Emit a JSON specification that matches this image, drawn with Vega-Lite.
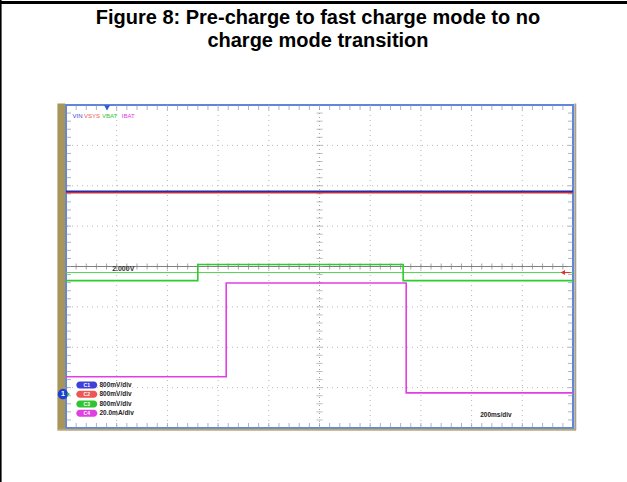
{
  "$schema": "https://vega.github.io/schema/vega-lite/v6.json",
  "width": 507,
  "height": 323,
  "autosize": "none",
  "padding": {"left": 66, "top": 105, "right": 54, "bottom": 54},
  "background": "white",
  "view": {"stroke": "#5f86d8", "strokeWidth": 2},
  "config": {"axis": {"disable": true}, "legend": {"disable": true}, "font": "Liberation Sans"},
  "data": {"values": [{}]},
  "datasets": {
    "trace": [
      {"s": "VIN", "o": 1, "x": 0, "y": 5.86},
      {"s": "VIN", "o": 2, "x": 10, "y": 5.86},
      {"s": "VSYS", "o": 1, "x": 0, "y": 5.83},
      {"s": "VSYS", "o": 2, "x": 10, "y": 5.83},
      {"s": "VBAT", "o": 1, "x": 0, "y": 3.65},
      {"s": "VBAT", "o": 2, "x": 2.6, "y": 3.65},
      {"s": "VBAT", "o": 3, "x": 2.6, "y": 4.05},
      {"s": "VBAT", "o": 4, "x": 6.65, "y": 4.05},
      {"s": "VBAT", "o": 5, "x": 6.65, "y": 3.65},
      {"s": "VBAT", "o": 6, "x": 10, "y": 3.65},
      {"s": "IBAT", "o": 1, "x": 0, "y": 1.27},
      {"s": "IBAT", "o": 2, "x": 3.16, "y": 1.27},
      {"s": "IBAT", "o": 3, "x": 3.16, "y": 3.59},
      {"s": "IBAT", "o": 4, "x": 6.71, "y": 3.59},
      {"s": "IBAT", "o": 5, "x": 6.71, "y": 0.87},
      {"s": "IBAT", "o": 6, "x": 10, "y": 0.87}
    ],
    "xt": [{"v":0.2},{"v":0.4},{"v":0.6},{"v":0.8},{"v":1},{"v":1.2},{"v":1.4},{"v":1.6},{"v":1.8},{"v":2},{"v":2.2},{"v":2.4},{"v":2.6},{"v":2.8},{"v":3},{"v":3.2},{"v":3.4},{"v":3.6},{"v":3.8},{"v":4},{"v":4.2},{"v":4.4},{"v":4.6},{"v":4.8},{"v":5},{"v":5.2},{"v":5.4},{"v":5.6},{"v":5.8},{"v":6},{"v":6.2},{"v":6.4},{"v":6.6},{"v":6.8},{"v":7},{"v":7.2},{"v":7.4},{"v":7.6},{"v":7.8},{"v":8},{"v":8.2},{"v":8.4},{"v":8.6},{"v":8.8},{"v":9},{"v":9.2},{"v":9.4},{"v":9.6},{"v":9.8}],
    "yt": [{"v":0.2},{"v":0.4},{"v":0.6},{"v":0.8},{"v":1},{"v":1.2},{"v":1.4},{"v":1.6},{"v":1.8},{"v":2},{"v":2.2},{"v":2.4},{"v":2.6},{"v":2.8},{"v":3},{"v":3.2},{"v":3.4},{"v":3.6},{"v":3.8},{"v":4},{"v":4.2},{"v":4.4},{"v":4.6},{"v":4.8},{"v":5},{"v":5.2},{"v":5.4},{"v":5.6},{"v":5.8},{"v":6},{"v":6.2},{"v":6.4},{"v":6.6},{"v":6.8},{"v":7},{"v":7.2},{"v":7.4},{"v":7.6},{"v":7.8}],
    "gx": [{"v":1},{"v":2},{"v":3},{"v":4},{"v":6},{"v":7},{"v":8},{"v":9}],
    "gy": [{"v":1},{"v":2},{"v":3},{"v":5},{"v":6},{"v":7}],
    "lab": [
      {"t": "VIN", "ch": "1", "x": 0.13},
      {"t": "VSYS", "ch": "2", "x": 0.355},
      {"t": "VBAT", "ch": "3", "x": 0.71},
      {"t": "IBAT", "ch": "4", "x": 1.1}
    ],
    "leg": [
      {"c": "C1", "ch": "1", "t": "800mV/div", "y": 1.065},
      {"c": "C2", "ch": "2", "t": "800mV/div", "y": 0.835},
      {"c": "C3", "ch": "3", "t": "800mV/div", "y": 0.595},
      {"c": "C4", "ch": "4", "t": "20.0mA/div", "y": 0.364}
    ]
  },
  "layer": [
    {
      "data": {"name": "gx"},
      "mark": {"type": "rule", "color": "#b8b8b8", "strokeDash": [1, 4], "strokeWidth": 1},
      "encoding": {"x": {"field": "v", "type": "quantitative", "scale": {"domain": [0, 10], "nice": false, "zero": false}}}
    },
    {
      "data": {"name": "gy"},
      "mark": {"type": "rule", "color": "#b8b8b8", "strokeDash": [1, 4], "strokeWidth": 1},
      "encoding": {"y": {"field": "v", "type": "quantitative", "scale": {"domain": [0, 8], "nice": false, "zero": false}}}
    },
    {
      "mark": {"type": "rule", "color": "#a0a0a0", "strokeDash": [1, 3], "strokeWidth": 1},
      "encoding": {"x": {"datum": 5, "scale": {"domain": [0, 10], "nice": false, "zero": false}}}
    },
    {
      "mark": {"type": "rule", "color": "#808080", "strokeWidth": 1},
      "encoding": {"y": {"datum": 4, "scale": {"domain": [0, 8], "nice": false, "zero": false}}}
    },
    {
      "data": {"name": "xt"},
      "mark": {"type": "tick", "orient": "vertical", "size": 6, "thickness": 1, "color": "#808080"},
      "encoding": {
        "x": {"field": "v", "type": "quantitative", "scale": {"domain": [0, 10], "nice": false, "zero": false}},
        "y": {"datum": 4, "scale": {"domain": [0, 8], "nice": false, "zero": false}}
      }
    },
    {
      "data": {"name": "yt"},
      "mark": {"type": "tick", "orient": "horizontal", "size": 6, "thickness": 1, "color": "#a0a0a0"},
      "encoding": {
        "y": {"field": "v", "type": "quantitative", "scale": {"domain": [0, 8], "nice": false, "zero": false}},
        "x": {"datum": 5, "scale": {"domain": [0, 10], "nice": false, "zero": false}}
      }
    },
    {
      "data": {"name": "xt"},
      "mark": {"type": "tick", "orient": "vertical", "size": 5, "thickness": 1, "color": "#8a93b0"},
      "encoding": {
        "x": {"field": "v", "type": "quantitative", "scale": {"domain": [0, 10], "nice": false, "zero": false}},
        "y": {"datum": 0.062, "scale": {"domain": [0, 8], "nice": false, "zero": false}}
      }
    },
    {
      "data": {"name": "xt"},
      "mark": {"type": "tick", "orient": "vertical", "size": 5, "thickness": 1, "color": "#8a93b0"},
      "encoding": {
        "x": {"field": "v", "type": "quantitative", "scale": {"domain": [0, 10], "nice": false, "zero": false}},
        "y": {"datum": 7.938, "scale": {"domain": [0, 8], "nice": false, "zero": false}}
      }
    },
    {
      "data": {"name": "yt"},
      "mark": {"type": "tick", "orient": "horizontal", "size": 5, "thickness": 1, "color": "#8a93b0"},
      "encoding": {
        "y": {"field": "v", "type": "quantitative", "scale": {"domain": [0, 8], "nice": false, "zero": false}},
        "x": {"datum": 0.049, "scale": {"domain": [0, 10], "nice": false, "zero": false}}
      }
    },
    {
      "data": {"name": "yt"},
      "mark": {"type": "tick", "orient": "horizontal", "size": 5, "thickness": 1, "color": "#8a93b0"},
      "encoding": {
        "y": {"field": "v", "type": "quantitative", "scale": {"domain": [0, 8], "nice": false, "zero": false}},
        "x": {"datum": 9.951, "scale": {"domain": [0, 10], "nice": false, "zero": false}}
      }
    },
    {
      "mark": {"type": "rule", "color": "#55d055", "strokeWidth": 1},
      "encoding": {"y": {"datum": 3.85, "scale": {"domain": [0, 8], "nice": false, "zero": false}}}
    },
    {
      "mark": {"type": "text", "text": "2.000V", "fontSize": 7, "fontWeight": "bold", "color": "#333333", "align": "left", "baseline": "middle"},
      "encoding": {
        "x": {"datum": 0.91, "scale": {"domain": [0, 10], "nice": false, "zero": false}},
        "y": {"datum": 3.94, "scale": {"domain": [0, 8], "nice": false, "zero": false}}
      }
    },
    {
      "data": {"name": "trace"},
      "transform": [{"filter": "datum.s === 'IBAT'"}],
      "mark": {"type": "line", "color": "#e33ee3", "strokeWidth": 1.6},
      "encoding": {
        "x": {"field": "x", "type": "quantitative", "scale": {"domain": [0, 10], "nice": false, "zero": false}},
        "y": {"field": "y", "type": "quantitative", "scale": {"domain": [0, 8], "nice": false, "zero": false}},
        "order": {"field": "o"}
      }
    },
    {
      "data": {"name": "trace"},
      "transform": [{"filter": "datum.s === 'VBAT'"}],
      "mark": {"type": "line", "color": "#2ccc2c", "strokeWidth": 1.6},
      "encoding": {
        "x": {"field": "x", "type": "quantitative", "scale": {"domain": [0, 10], "nice": false, "zero": false}},
        "y": {"field": "y", "type": "quantitative", "scale": {"domain": [0, 8], "nice": false, "zero": false}},
        "order": {"field": "o"}
      }
    },
    {
      "data": {"name": "trace"},
      "transform": [{"filter": "datum.s === 'VSYS'"}],
      "mark": {"type": "line", "color": "#e03535", "strokeWidth": 1.6},
      "encoding": {
        "x": {"field": "x", "type": "quantitative", "scale": {"domain": [0, 10], "nice": false, "zero": false}},
        "y": {"field": "y", "type": "quantitative", "scale": {"domain": [0, 8], "nice": false, "zero": false}},
        "order": {"field": "o"}
      }
    },
    {
      "data": {"name": "trace"},
      "transform": [{"filter": "datum.s === 'VIN'"}],
      "mark": {"type": "line", "color": "#2a2aa8", "strokeWidth": 1.8},
      "encoding": {
        "x": {"field": "x", "type": "quantitative", "scale": {"domain": [0, 10], "nice": false, "zero": false}},
        "y": {"field": "y", "type": "quantitative", "scale": {"domain": [0, 8], "nice": false, "zero": false}},
        "order": {"field": "o"}
      }
    },
    {
      "data": {"name": "lab"},
      "mark": {"type": "text", "fontSize": 6, "align": "left", "baseline": "middle"},
      "encoding": {
        "x": {"field": "x", "type": "quantitative", "scale": {"domain": [0, 10], "nice": false, "zero": false}},
        "y": {"datum": 7.735, "scale": {"domain": [0, 8], "nice": false, "zero": false}},
        "text": {"field": "t"},
        "color": {"field": "ch", "type": "nominal", "scale": {"domain": ["1", "2", "3", "4"], "range": ["#4040d8", "#ee5555", "#30c430", "#e040e0"]}}
      }
    },
    {
      "mark": {"type": "point", "shape": "triangle-down", "filled": true, "size": 35, "color": "#2c5ad8", "opacity": 1},
      "encoding": {
        "x": {"datum": 0.81, "scale": {"domain": [0, 10], "nice": false, "zero": false}},
        "y": {"datum": 7.93, "scale": {"domain": [0, 8], "nice": false, "zero": false}}
      }
    },
    {
      "mark": {"type": "rule", "color": "#e03030", "strokeWidth": 1},
      "encoding": {
        "x": {"datum": 9.78, "scale": {"domain": [0, 10], "nice": false, "zero": false}},
        "x2": {"datum": 9.95},
        "y": {"datum": 3.85, "scale": {"domain": [0, 8], "nice": false, "zero": false}}
      }
    },
    {
      "mark": {"type": "point", "shape": "triangle-left", "filled": true, "size": 25, "color": "#e03030", "opacity": 1},
      "encoding": {
        "x": {"datum": 9.8, "scale": {"domain": [0, 10], "nice": false, "zero": false}},
        "y": {"datum": 3.85, "scale": {"domain": [0, 8], "nice": false, "zero": false}}
      }
    },
    {
      "data": {"name": "leg"},
      "mark": {"type": "point", "shape": "M -0.7 -0.35 L 0.7 -0.35 A 0.35 0.35 0 0 1 0.7 0.35 L -0.7 0.35 A 0.35 0.35 0 0 1 -0.7 -0.35 Z", "filled": true, "size": 400, "opacity": 1},
      "encoding": {
        "x": {"datum": 0.41, "scale": {"domain": [0, 10], "nice": false, "zero": false}},
        "y": {"field": "y", "type": "quantitative", "scale": {"domain": [0, 8], "nice": false, "zero": false}},
        "color": {"field": "ch", "type": "nominal", "scale": {"domain": ["1", "2", "3", "4"], "range": ["#4040d8", "#ee5555", "#30c430", "#e040e0"]}}
      }
    },
    {
      "data": {"name": "leg"},
      "mark": {"type": "text", "fontSize": 5, "fontWeight": "bold", "color": "#ffffff", "align": "center", "baseline": "middle"},
      "encoding": {
        "x": {"datum": 0.41, "scale": {"domain": [0, 10], "nice": false, "zero": false}},
        "y": {"field": "y", "type": "quantitative", "scale": {"domain": [0, 8], "nice": false, "zero": false}},
        "text": {"field": "c"}
      }
    },
    {
      "data": {"name": "leg"},
      "mark": {"type": "text", "fontSize": 6.5, "fontWeight": "bold", "color": "#222222", "align": "left", "baseline": "middle"},
      "encoding": {
        "x": {"datum": 0.66, "scale": {"domain": [0, 10], "nice": false, "zero": false}},
        "y": {"field": "y", "type": "quantitative", "scale": {"domain": [0, 8], "nice": false, "zero": false}},
        "text": {"field": "t"}
      }
    },
    {
      "mark": {"type": "text", "text": "200ms/div", "fontSize": 6.5, "fontWeight": "bold", "color": "#222222", "align": "center", "baseline": "middle"},
      "encoding": {
        "x": {"datum": 8.48, "scale": {"domain": [0, 10], "nice": false, "zero": false}},
        "y": {"datum": 0.32, "scale": {"domain": [0, 8], "nice": false, "zero": false}}
      }
    },
    {
      "mark": {"type": "rect", "color": "#a8955c"},
      "encoding": {
        "x": {"datum": -0.17, "scale": {"domain": [0, 10], "nice": false, "zero": false}},
        "x2": {"datum": -0.015},
        "y": {"datum": -0.03, "scale": {"domain": [0, 8], "nice": false, "zero": false}},
        "y2": {"datum": 8.04}
      }
    },
    {
      "mark": {"type": "rule", "color": "#b8a87a", "strokeWidth": 2},
      "encoding": {
        "x": {"datum": -0.17, "scale": {"domain": [0, 10], "nice": false, "zero": false}},
        "x2": {"datum": 10.06},
        "y": {"datum": -0.045, "scale": {"domain": [0, 8], "nice": false, "zero": false}}
      }
    },
    {
      "mark": {"type": "rule", "color": "#a8a090", "strokeWidth": 2},
      "encoding": {
        "x": {"datum": 10.045, "scale": {"domain": [0, 10], "nice": false, "zero": false}},
        "y": {"datum": 8.04, "scale": {"domain": [0, 8], "nice": false, "zero": false}},
        "y2": {"datum": -0.05}
      }
    },
    {
      "mark": {"type": "point", "shape": "circle", "filled": true, "size": 110, "color": "#1d3fd6", "opacity": 1},
      "encoding": {
        "x": {"datum": -0.06, "scale": {"domain": [0, 10], "nice": false, "zero": false}},
        "y": {"datum": 0.84, "scale": {"domain": [0, 8], "nice": false, "zero": false}}
      }
    },
    {
      "mark": {"type": "point", "shape": "triangle-right", "filled": true, "size": 14, "color": "#30b030", "opacity": 1},
      "encoding": {
        "x": {"datum": 0.05, "scale": {"domain": [0, 10], "nice": false, "zero": false}},
        "y": {"datum": 0.84, "scale": {"domain": [0, 8], "nice": false, "zero": false}}
      }
    },
    {
      "mark": {"type": "text", "text": "1", "fontSize": 7, "fontWeight": "bold", "color": "#ffffff", "align": "center", "baseline": "middle"},
      "encoding": {
        "x": {"datum": -0.06, "scale": {"domain": [0, 10], "nice": false, "zero": false}},
        "y": {"datum": 0.84, "scale": {"domain": [0, 8], "nice": false, "zero": false}}
      }
    },
    {
      "mark": {"type": "rule", "color": "#000000", "strokeWidth": 2},
      "encoding": {
        "x": {"datum": -1.29, "scale": {"domain": [0, 10], "nice": false, "zero": false}},
        "y": {"datum": 10.6, "scale": {"domain": [0, 8], "nice": false, "zero": false}},
        "y2": {"datum": -1.4}
      }
    },
    {
      "mark": {"type": "rule", "color": "#000000", "strokeWidth": 3},
      "encoding": {
        "x": {"datum": -1.31, "scale": {"domain": [0, 10], "nice": false, "zero": false}},
        "x2": {"datum": 11.1},
        "y": {"datum": 10.54, "scale": {"domain": [0, 8], "nice": false, "zero": false}}
      }
    },
    {
      "mark": {"type": "text", "text": ["Figure 8: Pre-charge to fast charge mode to no", "charge mode transition"], "font": "Liberation Sans", "fontSize": 20, "fontWeight": "bold", "color": "#000000", "align": "center", "baseline": "alphabetic", "lineHeight": 23},
      "encoding": {
        "x": {"datum": 4.97, "scale": {"domain": [0, 10], "nice": false, "zero": false}},
        "y": {"datum": 10.0, "scale": {"domain": [0, 8], "nice": false, "zero": false}}
      }
    }
  ]
}
